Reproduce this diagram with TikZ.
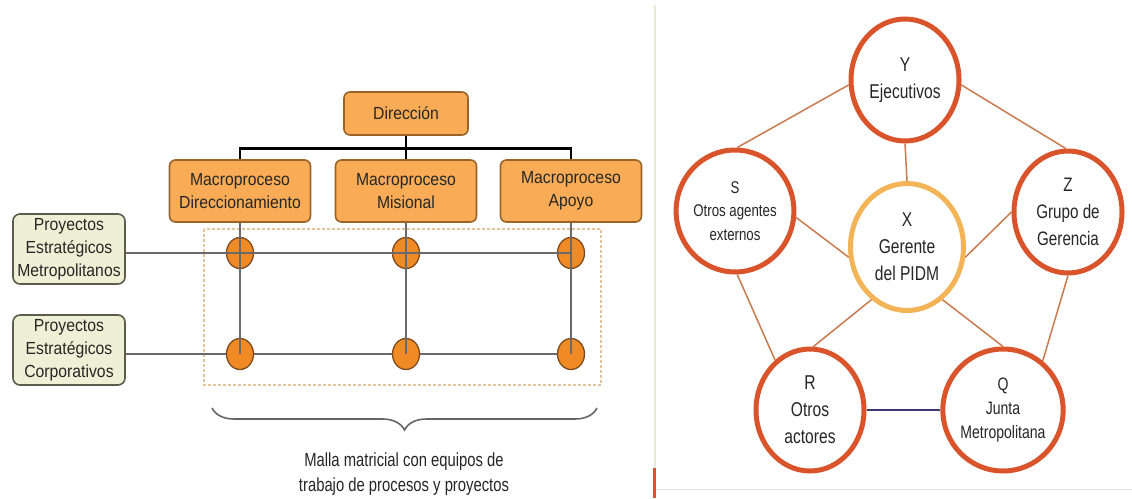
\documentclass[tikz,border=0pt]{standalone}
\usepackage{fontspec}
\setmainfont{Liberation Sans}
\newfontfamily\lsans{Liberation Sans}[FakeStretch=0.9]
\newfontfamily\rsans{Liberation Sans}[FakeStretch=0.78]
\usetikzlibrary{shapes.geometric,decorations.pathreplacing}
\definecolor{macfill}{HTML}{F9AC55}
\definecolor{macdraw}{HTML}{9A6428}
\definecolor{circfill}{HTML}{F08A24}
\definecolor{circdraw}{HTML}{7E4A1C}
\definecolor{grfill}{HTML}{EEF0D6}
\definecolor{grdraw}{HTML}{5C5C4C}
\definecolor{gridcol}{HTML}{6A6A6A}
\definecolor{dashcol}{HTML}{E3C59C}
\definecolor{redring}{HTML}{D9532B}
\definecolor{xring}{HTML}{F2B457}
\definecolor{spoke}{HTML}{C97A4E}
\definecolor{navy}{HTML}{3A3A70}
\definecolor{divcol}{HTML}{ECE8D8}
\definecolor{txt}{HTML}{262626}
\tikzset{
  macbox/.style={draw=macdraw,line width=1.6pt,fill=macfill,rounded corners=6pt,
    minimum width=141pt,minimum height=62pt,inner sep=0pt,align=center,text=txt,
    font=\lsans\fontsize{17.5}{22.5}\selectfont},
  dirbox/.style={macbox,minimum width=124pt,minimum height=43pt},
  grbox/.style={draw=grdraw,line width=1.6pt,fill=grfill,rounded corners=7pt,
    minimum width=112pt,minimum height=70pt,inner sep=0pt,align=center,text=txt,
    font=\lsans\fontsize{17.5}{23}\selectfont},
  dot/.style={ellipse,draw=circdraw,line width=1.3pt,fill=circfill,
    minimum width=27pt,minimum height=31pt,inner sep=0pt},
  gridline/.style={draw=gridcol,line width=2.5pt},
  ring/.style={ellipse,draw=redring,line width=5pt,fill=white,
    minimum width=108pt,minimum height=122pt,inner sep=0pt,align=center,text=txt,
    font=\rsans\fontsize{20}{27}\selectfont},
  smallring/.style={ring,font=\rsans\fontsize{18}{24}\selectfont},
  xcirc/.style={ring,draw=xring,minimum width=113pt,minimum height=127pt},
  spokeline/.style={draw=spoke,line width=1.5pt},
}
\begin{document}
\begin{tikzpicture}[x=1pt,y=-1pt]
\useasboundingbox (0,0) rectangle (1132,498);
\fill[white] (0,0) rectangle (1132,498);

% ---------- divider ----------
\coordinate (dv1) at (655,5);
\coordinate (dv2) at (655,490);
\coordinate (dv3) at (654.5,468);
\coordinate (dv4) at (654.5,498);
\coordinate (hb1) at (655,489);
\coordinate (hb2) at (1132,489);
\draw[divcol,line width=2pt] (dv1) -- (dv2);
\draw[gray!25,line width=1pt] (hb1) -- (hb2);
\draw[redring,line width=3pt] (dv3) -- (dv4);

% ---------- left panel ----------
\node[dirbox] (dir) at (406,113.5) {Dirección};
\node[macbox] (m1) at (240,191) {Macroproceso\\Direccionamiento};
\node[macbox] (m2) at (406,191) {Macroproceso\\Misional};
\node[macbox] (m3) at (571,191) {Macroproceso\\Apoyo};
\draw[black,line width=2.5pt] (dir.south) -- ++(0,12.5) -| (m1.north);
\draw[black,line width=2.5pt] (dir.south) -- ++(0,12.5) -| (m3.north);
\draw[black,line width=2.5pt] (dir.south) -- (m2.north);

\node[grbox] (g1) at (69,249) {Proyectos\\Estratégicos\\Metropolitanos};
\node[grbox] (g2) at (69,350) {Proyectos\\Estratégicos\\Corporativos};

\coordinate (d1) at (204,229);
\coordinate (d2) at (601,385);
\draw[dashcol,line width=1.3pt,dash pattern=on 3pt off 2pt] (d1) rectangle (d2);

\coordinate (p11) at (240,253);
\coordinate (p12) at (406,253);
\coordinate (p13) at (571,253);
\coordinate (p21) at (240,354);
\coordinate (p22) at (406,354);
\coordinate (p23) at (571,354);

\draw[gridline] (g2.east |- p21) -- (p23);
\node[dot] (c11) at (p11) {};
\node[dot] (c12) at (p12) {};
\node[dot] (c13) at (p13) {};
\node[dot] (c21) at (p21) {};
\node[dot] (c22) at (p22) {};
\node[dot] (c23) at (p23) {};
\draw[gridline] (m1.south) -- (c21.center);
\draw[gridline] (m2.south) -- (c22.center);
\draw[gridline] (m3.south) -- (c23.center);
\draw[gridline] (g1.east |- p11) -- (c13.center);

\coordinate (br1) at (597,408);
\coordinate (br2) at (212,408);
\draw[gray!80!black,line width=1.6pt,decorate,decoration={brace,amplitude=22pt}] (br1) -- (br2);
\node[align=center,text=txt,font=\rsans\fontsize{19}{25}\selectfont] (cap) at (404,474.5)
  {Malla matricial con equipos de\\trabajo de procesos y proyectos};

% ---------- right panel ----------
\node[ring] (Y) at (905,80) {Y\\Ejecutivos};
\node[smallring,font=\rsans\fontsize{17}{23.5}\selectfont] (S) at (735,211) {S\\Otros agentes\\externos};
\node[ring,font=\rsans\fontsize{19.5}{27}\selectfont] (Z) at (1068,212) {Z\\Grupo de\\Gerencia};
\node[xcirc] (X) at (907,247) {X\\Gerente\\del PIDM};
\node[ring] (R) at (810,410) {R\\Otros\\actores};
\node[smallring] (Q) at (1003,410) {Q\\Junta\\Metropolitana};

\draw[spokeline] (Y.185) -- (S.88);
\draw[spokeline] (Y.-5) -- (Z.92);
\draw[spokeline] (S.-88) -- (R.125);
\draw[spokeline] (Z.-90) -- (Q.51);
\draw[spokeline] (Y.south) -- (X.north);
\draw[spokeline] (S.-6) -- (X.190);
\draw[spokeline] (Z.180) -- (X.-10);
\draw[spokeline] (R.87) -- (X.236);
\draw[spokeline] (Q.90) -- (X.-56);
\draw[navy,line width=1.5pt] (R.east) -- (Q.west);
\end{tikzpicture}
\end{document}
